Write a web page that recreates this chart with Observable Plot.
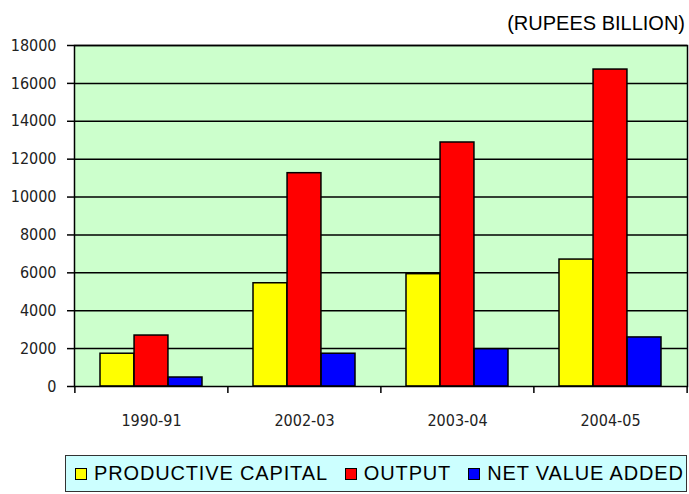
<!DOCTYPE html>
<html>
<head>
<meta charset="utf-8">
<script src="https://cdn.jsdelivr.net/npm/d3@7"></script>
<script src="https://cdn.jsdelivr.net/npm/@observablehq/plot@0.6"></script>
<style>
  body { margin: 0; background: #fff; }
  #wrap { position: relative; width: 689px; height: 494px; overflow: hidden; }
  #title { position: absolute; top: 11px; right: 4px; font-family: "Liberation Sans", Arial, sans-serif; font-size: 20px; line-height: 24px; color: #000; }
  #legend { position: absolute; left: 65px; top: 455px; width: 622px; height: 37px; box-sizing: border-box;
    border: 1.5px solid #333; background: #ccffff; font-family: "Liberation Sans", Arial, sans-serif; font-size: 20px;
    letter-spacing: 0.85px;
    display: flex; align-items: center; padding-left: 9px; white-space: nowrap; color: #000; }
  .item { display: flex; align-items: center; margin-right: 17px; }
  .sw { width: 12px; height: 12px; border: 1.5px solid #000; margin-right: 7px; box-sizing: border-box; }
</style>
</head>
<body>
<div id="wrap">
  <div id="chart"></div>
  <div id="title"></div>
  <div id="legend"></div>
</div>
<script>
const years = ["1990-91", "2002-03", "2003-04", "2004-05"];
const series = ["PRODUCTIVE CAPITAL", "OUTPUT", "NET VALUE ADDED"];
const productiveCapital = [1730, 5450, 5930, 6700];
const output = [2690, 11260, 12880, 16730];
const netValueAdded = [475, 1730, 1970, 2590];
const yTicks = [0, 2000, 4000, 6000, 8000, 10000, 12000, 14000, 16000, 18000];
const colors = ["#ffff00", "#ff0000", "#0000ff"];
const unitTitle = "(RUPEES BILLION)";

const values = [productiveCapital, output, netValueAdded];
const W = 689, H = 450, ML = 74, MR = 2, MT = 45, MB = 64;
const step = (W - ML - MR) / years.length;
const bw = step * (2 / 3);
const third = bw / 3;
const axisFont = "'DejaVu Sans Condensed', 'Liberation Sans Narrow', sans-serif";

const barMarks = series.map((s, k) =>
  Plot.barY(years.map((y, i) => ({year: y, value: values[k][i], series: s})), {
    x: "year", y: "value", fill: colors[k], stroke: "black", strokeWidth: 1.5,
    insetLeft: k * third, insetRight: (2 - k) * third
  })
);

const chart = Plot.plot({
  width: W, height: H,
  marginLeft: ML, marginRight: MR, marginTop: MT, marginBottom: MB,
  style: {fontFamily: axisFont, fontSize: "16px", color: "#000", background: "#fff", overflow: "visible"},
  x: {domain: years, paddingInner: 1/3, paddingOuter: 1/6, axis: null},
  y: {domain: [0, 18000], axis: null},
  marks: [
    Plot.frame({fill: "#ccffcc"}),
    Plot.ruleY(yTicks.filter(v => v > 0), {stroke: "black", strokeWidth: 1.5}),
    ...barMarks,
    Plot.frame({stroke: "black", strokeWidth: 1.5}),
    Plot.ruleX(years, {x: d => d, y1: 0, y2: 0, dx: -step / 2, insetBottom: -7, stroke: "black", strokeWidth: 1.5}),
    Plot.ruleX([years[years.length - 1]], {x: d => d, y1: 0, y2: 0, dx: step / 2, insetBottom: -7, stroke: "black", strokeWidth: 1.5}),
    Plot.axisY(yTicks, {tickSize: 7, tickPadding: 11, strokeWidth: 1.5, label: null, fontSize: 16, tickFormat: d => String(d), fill: "#222"}),
    Plot.axisX({tickSize: 0, tickPadding: 28, label: null, fontSize: 16, fill: "#222"})
  ]
});
document.getElementById("chart").appendChild(chart);
document.getElementById("title").textContent = unitTitle;

const legend = document.getElementById("legend");
series.forEach((s, k) => {
  const item = document.createElement("div");
  item.className = "item";
  const sw = document.createElement("span");
  sw.className = "sw";
  sw.style.background = colors[k];
  const t = document.createElement("span");
  t.textContent = s;
  item.appendChild(sw);
  item.appendChild(t);
  legend.appendChild(item);
});
</script>
</body>
</html>
